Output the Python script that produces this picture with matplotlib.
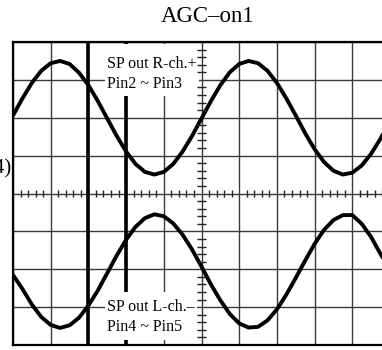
#!/usr/bin/env python3

import numpy as np
import matplotlib
matplotlib.use('Agg')
import matplotlib.pyplot as plt
from matplotlib.patches import Rectangle

# time base in screen divisions (0.25 div per sample)
t_div = np.linspace(0, 10, 41)

# upper trace: SP out R-ch.+ (Pin2 ~ Pin3), in divisions
r_ch = [2.06, 2.51, 2.92, 3.24, 3.44, 3.50, 3.42, 3.19, 2.86, 2.44,
        1.98, 1.52, 1.11, 0.78, 0.57, 0.50, 0.57, 0.78, 1.11, 1.52,
        1.98, 2.44, 2.86, 3.20, 3.42, 3.50, 3.44, 3.24, 2.92, 2.51,
        2.06, 1.59, 1.17, 0.83, 0.60, 0.50, 0.55, 0.74, 1.05, 1.45,
        1.91]

# lower trace: SP out L-ch.- (Pin4 ~ Pin5), in divisions
l_ch = [-2.15, -2.52, -2.93, -3.26, -3.47, -3.55, -3.48, -3.28, -2.96, -2.56,
        -2.10, -1.64, -1.22, -0.88, -0.65, -0.55, -0.60, -0.79, -1.09, -1.48,
        -1.93, -2.40, -2.82, -3.18, -3.43, -3.54, -3.52, -3.35, -3.06, -2.67,
        -2.23, -1.77, -1.33, -0.96, -0.70, -0.57, -0.57, -0.80, -1.15, -1.60,
        -2.00]

title = 'AGC\u2013on1'
side_label = '(4)'
r_label = ['SP out R-ch.+', 'Pin2 ~ Pin3']
l_label = ['SP out L-ch.\u2013', 'Pin4 ~ Pin5']
cursor_x = [2, 3]

W, H = 382, 350


def draw_graticule(ax):
    for x in range(0, 11):
        ax.axvline(x, color='#3a3a3a', lw=1.0, zorder=1)
    for y in range(-4, 5):
        ax.axhline(y, color='#3a3a3a', lw=1.0, zorder=1)

    # minor ticks on the centre cross
    minor_x = [v for v in np.arange(0, 10.01, 0.2) if abs(v - round(v)) > 0.01]
    minor_y = [v for v in np.arange(-4, 4.01, 0.2) if abs(v - round(v)) > 0.01]
    ax.vlines(minor_x, -0.1, 0.1, color='#222222', lw=1.0, zorder=6)
    ax.hlines(minor_y, 4.89, 5.11, color='#222222', lw=1.0, zorder=6)


def main():
    plt.rcParams['font.family'] = ['Liberation Serif', 'DejaVu Serif']

    fig = plt.figure(figsize=(W / 100, H / 100), dpi=100)
    # the screen is wider than the picture: right edge falls off the canvas
    ax = fig.add_axes([13 / W, 5 / H, 377 / W, 303 / H])
    ax.set_xlim(0, 10)
    ax.set_ylim(-4, 4)
    ax.set_xticks([])
    ax.set_yticks([])
    for s in ax.spines.values():
        s.set_linewidth(1.6)
        s.set_color('black')

    draw_graticule(ax)

    for x in cursor_x:
        ax.axvline(x, color='black', lw=2.6, zorder=2)

    ax.plot(t_div, r_ch, color='black', lw=2.8, solid_capstyle='round', zorder=3)
    ax.plot(t_div, l_ch, color='black', lw=2.8, solid_capstyle='round', zorder=3)

    # white boxes behind the labels
    ax.add_patch(Rectangle((2.44, 2.57), 2.49, 1.39, facecolor='white',
                           edgecolor='none', zorder=4))
    ax.add_patch(Rectangle((2.44, -3.87), 2.44, 1.27, facecolor='white',
                           edgecolor='none', zorder=4))

    ax.text(2.49, 3.42, r_label[0], fontsize=11.5, va='center', zorder=5)
    ax.text(2.49, 2.89, r_label[1], fontsize=11.5, va='center', zorder=5)
    ax.text(2.49, -3.0, l_label[0], fontsize=11.5, va='center', zorder=5)
    ax.text(2.49, -3.53, l_label[1], fontsize=11.5, va='center', zorder=5)

    fig.text(207.5 / W, 1 - 16 / H, title, fontsize=16.5, ha='center', va='center')
    fig.text(11 / W, 1 - 169 / H, side_label, fontsize=15, ha='right', va='center')

    fig.savefig('out.png', dpi=100)
    plt.close(fig)


if __name__ == '__main__':
    main()
